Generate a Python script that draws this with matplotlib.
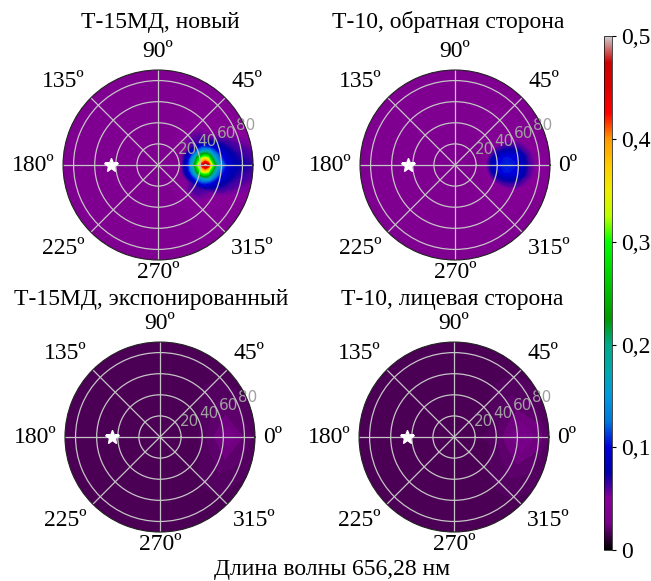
import numpy as np
import matplotlib.pyplot as plt
from matplotlib import colors, cm, ticker

plt.rcParams['font.family'] = ['Liberation Serif', 'DejaVu Serif']

# ---- data ----
titles = ['Т-15МД, новый', 'Т-10, обратная сторона',
          'Т-15МД, экспонированный', 'Т-10, лицевая сторона']
angle_ticks = [0, 45, 90, 135, 180, 225, 270, 315]
ring_ticks = [20, 40, 60, 80]
cbar_ticks = [0, 0.1, 0.2, 0.3, 0.4, 0.5]
xlabel = 'Длина волны 656,28 нм'

# direction of incidence (white star), degrees
star_theta = 180
star_r = 45

# background level of every panel
background = [0.040, 0.040, 0.016, 0.016]

# panel 1: Т-15МД, новый  (rows = theta nodes, columns = r nodes)
spot1_theta = [-60, -28, -18, -9, 0, 9, 18, 28, 60]
spot1_r = [0, 21, 26, 30, 34, 38, 42, 45, 48, 51, 55, 60, 66, 75, 92]
spot1_val = [
    [0.04, 0.04, 0.04, 0.04, 0.04, 0.04, 0.04, 0.04, 0.04, 0.04, 0.04, 0.04, 0.04, 0.04, 0.04],
    [0.04, 0.04, 0.045, 0.05, 0.058, 0.064, 0.066, 0.066, 0.064, 0.06, 0.055, 0.052, 0.048, 0.045, 0.042],
    [0.04, 0.04, 0.065, 0.085, 0.105, 0.125, 0.135, 0.14, 0.13, 0.115, 0.095, 0.08, 0.068, 0.057, 0.048],
    [0.04, 0.045, 0.075, 0.11, 0.16, 0.25, 0.32, 0.33, 0.30, 0.22, 0.14, 0.105, 0.085, 0.068, 0.056],
    [0.04, 0.045, 0.085, 0.12, 0.20, 0.33, 0.45, 0.50, 0.45, 0.33, 0.21, 0.135, 0.095, 0.078, 0.066],
    [0.04, 0.045, 0.075, 0.11, 0.16, 0.25, 0.32, 0.33, 0.30, 0.22, 0.14, 0.105, 0.085, 0.068, 0.056],
    [0.04, 0.04, 0.065, 0.085, 0.105, 0.125, 0.135, 0.14, 0.13, 0.115, 0.095, 0.08, 0.068, 0.057, 0.048],
    [0.04, 0.04, 0.045, 0.05, 0.058, 0.064, 0.066, 0.066, 0.064, 0.06, 0.055, 0.052, 0.048, 0.045, 0.042],
    [0.04, 0.04, 0.04, 0.04, 0.04, 0.04, 0.04, 0.04, 0.04, 0.04, 0.04, 0.04, 0.04, 0.04, 0.04],
]

# panel 2: Т-10, обратная сторона
spot2_theta = [-60, -26, -16, -8, 0, 8, 16, 26, 60]
spot2_r = [0, 25, 31, 36, 42, 49, 56, 63, 70, 78, 92]
spot2_val = [
    [0.04, 0.04, 0.04, 0.04, 0.04, 0.04, 0.04, 0.04, 0.04, 0.04, 0.04],
    [0.04, 0.04, 0.04, 0.043, 0.046, 0.047, 0.046, 0.044, 0.042, 0.04, 0.04],
    [0.04, 0.04, 0.046, 0.06, 0.072, 0.076, 0.072, 0.062, 0.05, 0.044, 0.04],
    [0.04, 0.04, 0.054, 0.08, 0.098, 0.104, 0.10, 0.084, 0.06, 0.046, 0.041],
    [0.04, 0.04, 0.057, 0.085, 0.102, 0.108, 0.104, 0.088, 0.064, 0.048, 0.042],
    [0.04, 0.04, 0.054, 0.08, 0.098, 0.104, 0.10, 0.084, 0.06, 0.046, 0.041],
    [0.04, 0.04, 0.046, 0.06, 0.072, 0.076, 0.072, 0.062, 0.05, 0.044, 0.04],
    [0.04, 0.04, 0.04, 0.043, 0.046, 0.047, 0.046, 0.044, 0.042, 0.04, 0.04],
    [0.04, 0.04, 0.04, 0.04, 0.04, 0.04, 0.04, 0.04, 0.04, 0.04, 0.04],
]

# panels 3 and 4: weak broad glow near 0 deg
glow_theta = [-60, -25, 0, 25, 60]
glow_r = [0, 35, 50, 65, 80, 92]
spot3_val = [
    [0.016, 0.016, 0.016, 0.016, 0.016, 0.016],
    [0.016, 0.016, 0.019, 0.021, 0.019, 0.017],
    [0.016, 0.017, 0.022, 0.027, 0.022, 0.018],
    [0.016, 0.016, 0.019, 0.021, 0.019, 0.017],
    [0.016, 0.016, 0.016, 0.016, 0.016, 0.016],
]
spot4_val = [
    [0.016, 0.016, 0.016, 0.016, 0.016, 0.016],
    [0.016, 0.017, 0.020, 0.022, 0.020, 0.018],
    [0.016, 0.018, 0.024, 0.028, 0.024, 0.019],
    [0.016, 0.017, 0.020, 0.022, 0.020, 0.018],
    [0.016, 0.016, 0.016, 0.016, 0.016, 0.016],
]

fields = [(spot1_theta, spot1_r, spot1_val),
          (spot2_theta, spot2_r, spot2_val),
          (glow_theta, glow_r, spot3_val),
          (glow_theta, glow_r, spot4_val)]

# ---- layout ----
axes_pos = [[0.0968, 0.5525, 0.2919, 0.327],
            [0.5530, 0.5525, 0.2919, 0.327],
            [0.0998, 0.0843, 0.2919, 0.327],
            [0.5515, 0.0843, 0.2919, 0.327]]
title_pos = [(0.246, 0.962), (0.688, 0.962), (0.232, 0.485), (0.694, 0.485)]

cmap = plt.get_cmap('nipy_spectral')
norm = colors.Normalize(vmin=0, vmax=0.5)
levels = np.linspace(0, 0.5, 201)

fig = plt.figure(figsize=(6.51, 5.81), dpi=100)

for k in range(4):
    ax = fig.add_axes(axes_pos[k], projection='polar')
    th, rr, val = fields[k]
    T, R = np.meshgrid(np.deg2rad(th), rr, indexing='ij')
    ax.contourf(T, R, np.array(val), levels=levels, cmap=cmap, norm=norm,
                extend='both', antialiased=False)
    # facecolor = colour of the contour band holding the background level
    i = np.searchsorted(levels, background[k])
    ax.set_facecolor(cmap(norm((levels[i - 1] + levels[i]) / 2)))

    ax.plot(np.deg2rad(star_theta), star_r, marker='*', color='white',
            mec='white', ms=10, zorder=5)

    ax.set_ylim(0, 90)
    ax.set_xticks(np.deg2rad(angle_ticks))
    ax.set_xticklabels([])
    ax.set_rgrids(ring_ticks, labels=[str(t) for t in ring_ticks], angle=22.5,
                  fontsize=11, color='#a0a0a0', family='DejaVu Sans')
    ax.grid(color='#c4c4c4', lw=0.9)
    ax.spines['polar'].set_color('#222222')
    ax.spines['polar'].set_linewidth(0.8)

    for a in angle_ticks:
        c, s = np.cos(np.deg2rad(a)), np.sin(np.deg2rad(a))
        ha = 'left' if c > 0.5 else ('right' if c < -0.5 else 'center')
        va = 'bottom' if s > 0.5 else ('top' if s < -0.5 else 'center')
        r_lab = 92 if a == 270 else 98
        ax.text(np.deg2rad(a), r_lab, f'{a}º', ha=ha, va=va, fontsize=17)

    fig.text(title_pos[k][0], title_pos[k][1], titles[k], ha='center',
             va='center', fontsize=17)

fig.text(0.51, 0.02, xlabel, ha='center', va='center', fontsize=17)

cax = fig.add_axes([0.928, 0.053, 0.012, 0.885])
sm = cm.ScalarMappable(norm=norm, cmap=cmap)
cb = fig.colorbar(sm, cax=cax, ticks=cbar_ticks)
cb.ax.yaxis.set_major_formatter(
    ticker.FuncFormatter(lambda v, p: ('%g' % v).replace('.', ',')))
cb.ax.tick_params(labelsize=17, length=3, width=0.8)
cb.outline.set_linewidth(0.5)

fig.savefig('out.png', dpi=100)
